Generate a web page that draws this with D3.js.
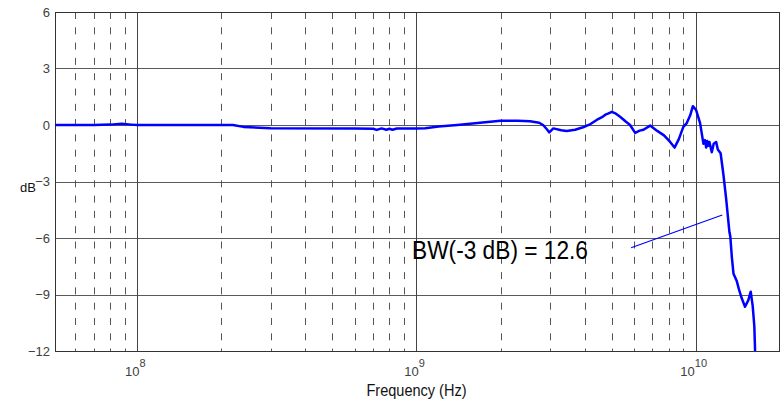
<!DOCTYPE html>
<html>
<head>
<meta charset="utf-8">
<script src="https://cdn.jsdelivr.net/npm/d3@7"></script>
<style>
  body { margin: 0; background: #fff; }
  text { font-family: "Liberation Sans", Arial, sans-serif; }
</style>
</head>
<body>
<div id="chart"></div>
<script>
// frequency in GHz, gain in dB
var freqGHz = [0.05, 0.07, 0.08, 0.088, 0.095, 0.1, 0.22, 0.24, 0.3, 0.6, 0.7, 0.72, 0.75, 0.78, 0.8, 0.82, 0.85,
  1.0, 1.075, 1.2, 1.4, 1.69, 2.0, 2.3, 2.55, 2.75, 2.84, 2.92, 2.99, 3.09, 3.3, 3.45, 3.7, 3.95, 4.2, 4.42,
  4.6, 4.75, 4.85, 5.01, 5.15, 5.36, 5.6, 5.82, 6.07, 6.3, 6.5, 6.87, 7.26, 7.7, 8.1, 8.4, 8.7, 9.03, 9.29,
  9.55, 9.77, 10.03, 10.37, 10.66, 10.8, 10.9, 11.0, 11.1, 11.2, 11.42, 11.6, 11.84, 12.0, 12.28, 12.56,
  12.85, 13.21, 13.3, 13.47, 13.66, 14.04, 14.33, 14.62, 15.02, 15.44, 15.74, 16.0, 16.22, 16.35];
var gainDb = [0, 0, 0.02, 0.06, 0.02, 0, 0, -0.1, -0.17, -0.18, -0.2, -0.26, -0.18, -0.25, -0.2, -0.25, -0.19,
  -0.18, -0.17, -0.08, 0, 0.12, 0.23, 0.23, 0.2, 0.12, 0.0, -0.2, -0.39, -0.18, -0.28, -0.32, -0.25, -0.12, 0.05, 0.27,
  0.4, 0.55, 0.6, 0.7, 0.62, 0.44, 0.2, 0.0, -0.42, -0.3, -0.25, -0.03, -0.3, -0.55, -0.9, -1.2, -0.75, -0.1, 0.1,
  0.5, 1.0, 0.8, 0.1, -1.0, -0.8, -1.2, -0.85, -1.1, -0.9, -1.45, -1.0, -0.9, -1.3, -1.5, -2.6,
  -3.9, -5.7, -5.9, -7.0, -7.9, -8.3, -8.8, -9.2, -9.65, -9.3, -8.85, -9.6, -10.7, -12.4];

var yTicks = [6, 3, 0, -3, -6, -9, -12];
var decadeTicks = [1e8, 1e9, 1e10];
var decadeExp = ["8", "9", "10"];
var minorTicks = [6e7, 7e7, 8e7, 9e7,
  2e8, 3e8, 4e8, 5e8, 6e8, 7e8, 8e8, 9e8,
  2e9, 3e9, 4e9, 5e9, 6e9, 7e9, 8e9, 9e9];
var noteText = "BW(-3 dB) = 12.6";
var noteFreq = [5.87e9, 1.245e10];
var noteDb = [-6.52, -4.78];

var W = 782, H = 404;
var margin = { top: 12, right: 2, bottom: 53, left: 55 };
var w = W - margin.left - margin.right,
    h = H - margin.top - margin.bottom;

var svg = d3.select("#chart").append("svg")
  .attr("width", W)
  .attr("height", H);
var g = svg.append("g")
  .attr("transform", "translate(" + margin.left + "," + margin.top + ")");

// log axis pinned on the decades; the plot box clips the rest
var x = d3.scaleLog().domain([1e8, 1e10]).range([82.3, 640.7]);
var y = d3.scaleLinear().domain([-12, 6]).range([h, 0]);

// horizontal grid
g.selectAll(".hgrid")
  .data(yTicks)
  .enter().append("line")
  .attr("class", "hgrid")
  .attr("x1", 0).attr("x2", w)
  .attr("y1", function(d) { return Math.round(y(d)) + 0.5; })
  .attr("y2", function(d) { return Math.round(y(d)) + 0.5; })
  .attr("stroke", "#5a5a5a")
  .attr("stroke-width", 1);

// minor dashed verticals
g.selectAll(".minor")
  .data(minorTicks)
  .enter().append("line")
  .attr("class", "minor")
  .attr("x1", function(d) { return Math.round(x(d)) + 0.5; })
  .attr("x2", function(d) { return Math.round(x(d)) + 0.5; })
  .attr("y1", 0).attr("y2", h)
  .attr("stroke", "#555")
  .attr("stroke-width", 1)
  .attr("stroke-dasharray", "7,8.3");

// decade verticals
g.selectAll(".major")
  .data(decadeTicks)
  .enter().append("line")
  .attr("class", "major")
  .attr("x1", function(d) { return Math.round(x(d)) + 0.5; })
  .attr("x2", function(d) { return Math.round(x(d)) + 0.5; })
  .attr("y1", 0).attr("y2", h)
  .attr("stroke", "#444")
  .attr("stroke-width", 1);

// frame
g.append("rect")
  .attr("x", 0.5).attr("y", 0.5)
  .attr("width", w - 1).attr("height", h)
  .attr("fill", "none")
  .attr("stroke", "#333")
  .attr("stroke-width", 1);

// y axis labels
var yAxis = d3.axisLeft(y).tickValues(yTicks).tickSize(0).tickPadding(5);
g.append("g")
  .attr("class", "y-axis")
  .call(yAxis)
  .call(function(s) { s.select(".domain").remove(); })
  .selectAll("text")
  .attr("font-size", 13)
  .attr("fill", "#404040")
  .style("font-family", "'Liberation Sans', Arial, sans-serif");

// x tick labels 10^n
var xl = g.selectAll(".xlab")
  .data(decadeTicks)
  .enter().append("text")
  .attr("class", "xlab")
  .attr("x", function(d) { return x(d) - 2; })
  .attr("y", h + 25)
  .attr("text-anchor", "middle")
  .attr("font-size", 13)
  .attr("fill", "#404040");
xl.append("tspan").text("10");
xl.append("tspan")
  .attr("dy", -9)
  .attr("font-size", 11)
  .text(function(d, i) { return decadeExp[i]; });

// axis titles (condensed look)
svg.append("text")
  .attr("x", margin.left + x(1e9) - 50)
  .attr("y", 396)
  .attr("font-size", 16)
  .attr("textLength", 100)
  .attr("lengthAdjust", "spacingAndGlyphs")
  .attr("fill", "#111")
  .text("Frequency (Hz)");
svg.append("text")
  .attr("x", 28)
  .attr("y", 192)
  .attr("text-anchor", "middle")
  .attr("font-size", 13)
  .attr("fill", "#111")
  .text("dB");

// curve
svg.append("clipPath").attr("id", "clip")
  .append("rect").attr("width", w).attr("height", h);

var line = d3.line()
  .x(function(d, i) { return x(freqGHz[i] * 1e9); })
  .y(function(d) { return y(d); });

g.append("path")
  .datum(gainDb)
  .attr("clip-path", "url(#clip)")
  .attr("d", line)
  .attr("fill", "none")
  .attr("stroke", "#0000ff")
  .attr("stroke-width", 2.5)
  .attr("stroke-linejoin", "round");

// annotation
g.append("line")
  .attr("x1", x(noteFreq[0])).attr("y1", y(noteDb[0]))
  .attr("x2", x(noteFreq[1])).attr("y2", y(noteDb[1]))
  .attr("stroke", "#0000ff")
  .attr("stroke-width", 1.2);
g.append("text")
  .attr("x", 412 - margin.left)
  .attr("y", 259 - margin.top)
  .attr("font-size", 25)
  .attr("textLength", 176)
  .attr("lengthAdjust", "spacingAndGlyphs")
  .attr("fill", "#000")
  .text(noteText);
</script>
</body>
</html>
